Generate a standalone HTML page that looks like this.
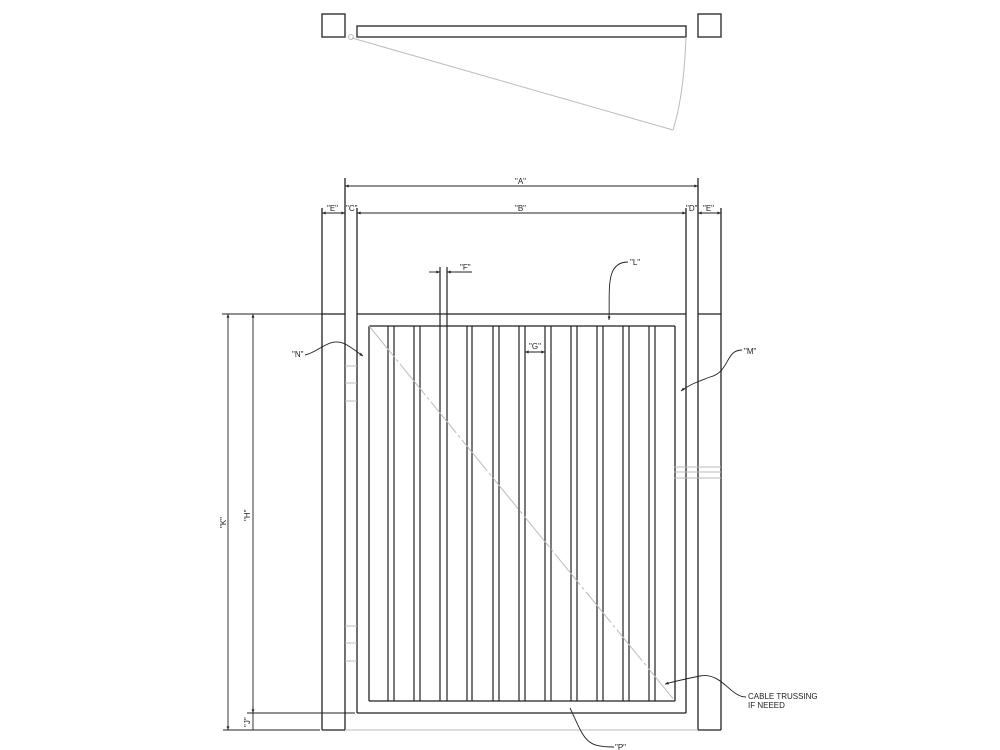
<!DOCTYPE html>
<html><head><meta charset="utf-8"><style>
html,body{margin:0;padding:0;background:#fff;}
svg{display:block;}
text{font-family:"Liberation Sans",sans-serif;font-size:8px;fill:#222;}
</style></head><body>
<svg width="1000" height="750" viewBox="0 0 1000 750" xmlns="http://www.w3.org/2000/svg">
<defs>
<marker id="ar" viewBox="0 0 10 10" refX="10" refY="5" markerWidth="6" markerHeight="4" orient="auto-start-reverse"><path d="M0,1 L10,5 L0,9 z" fill="#222"/></marker>
</defs>
<!-- top view -->
<g fill="none" stroke="#333" stroke-width="1.4">
<rect x="322" y="14" width="23" height="23"/>
<rect x="357" y="26" width="329" height="11"/>
<rect x="698" y="14" width="23" height="23"/>
</g>
<g fill="none" stroke="#bbb" stroke-width="1">
<circle cx="351" cy="37" r="2.5"/>
<line x1="352" y1="38" x2="673" y2="130"/>
<path d="M686,37 Q684,95 673,130"/>
</g>
<!-- posts -->
<g fill="none" stroke="#222" stroke-width="1.3">
<line x1="322" y1="208" x2="322" y2="730"/>
<line x1="345" y1="178" x2="345" y2="730"/>
<line x1="322" y1="730" x2="345" y2="730"/>
<line x1="698" y1="178" x2="698" y2="730"/>
<line x1="721" y1="208" x2="721" y2="730"/>
<line x1="698" y1="730" x2="721" y2="730"/>
<line x1="322" y1="314" x2="345" y2="314"/>
<line x1="698" y1="314" x2="721" y2="314"/>
<line x1="357" y1="208" x2="357" y2="713"/>
<line x1="686" y1="208" x2="686" y2="713"/>
<line x1="357" y1="314" x2="686" y2="314"/>
<line x1="357" y1="713" x2="686" y2="713"/>
<line x1="369" y1="326" x2="369" y2="701"/>
<line x1="675" y1="326" x2="675" y2="701"/>
<line x1="369" y1="326" x2="675" y2="326"/>
<line x1="369" y1="701" x2="675" y2="701"/>
</g>
<!-- pickets -->
<g fill="none" stroke="#222" stroke-width="1.2">
<line x1="388" y1="326" x2="388" y2="701"/><line x1="394" y1="326" x2="394" y2="701"/>
<line x1="414" y1="326" x2="414" y2="701"/><line x1="420" y1="326" x2="420" y2="701"/>
<line x1="440" y1="267" x2="440" y2="701"/><line x1="447" y1="267" x2="447" y2="701"/>
<line x1="467" y1="326" x2="467" y2="701"/><line x1="472" y1="326" x2="472" y2="701"/>
<line x1="493" y1="326" x2="493" y2="701"/><line x1="499" y1="326" x2="499" y2="701"/>
<line x1="519" y1="326" x2="519" y2="701"/><line x1="525" y1="326" x2="525" y2="701"/>
<line x1="545" y1="326" x2="545" y2="701"/><line x1="551" y1="326" x2="551" y2="701"/>
<line x1="571" y1="326" x2="571" y2="701"/><line x1="577" y1="326" x2="577" y2="701"/>
<line x1="597" y1="326" x2="597" y2="701"/><line x1="603" y1="326" x2="603" y2="701"/>
<line x1="623" y1="326" x2="623" y2="701"/><line x1="629" y1="326" x2="629" y2="701"/>
<line x1="649" y1="326" x2="649" y2="701"/><line x1="655" y1="326" x2="655" y2="701"/>
</g>
<!-- grey details -->
<g fill="none" stroke="#bbb" stroke-width="1">
<line x1="369" y1="326" x2="675" y2="701" stroke-dasharray="40,3,3,3"/>
<line x1="345" y1="366" x2="357" y2="366"/><line x1="345" y1="383" x2="357" y2="383"/><line x1="345" y1="401" x2="357" y2="401"/>
<line x1="345" y1="626" x2="357" y2="626"/><line x1="345" y1="643" x2="357" y2="643"/><line x1="345" y1="661" x2="357" y2="661"/>
<line x1="674" y1="467" x2="721" y2="467"/><line x1="674" y1="472" x2="721" y2="472"/><line x1="674" y1="478" x2="721" y2="478"/>
<line x1="345" y1="730" x2="698" y2="730"/>
</g>
<!-- dimensions -->
<g fill="none" stroke="#222" stroke-width="0.9">
<line x1="345" y1="186" x2="698" y2="186" marker-start="url(#ar)" marker-end="url(#ar)"/>
<line x1="357" y1="213" x2="686" y2="213" marker-start="url(#ar)" marker-end="url(#ar)"/>
<line x1="322" y1="213" x2="345" y2="213" marker-start="url(#ar)" marker-end="url(#ar)"/>
<line x1="698" y1="213" x2="721" y2="213" marker-start="url(#ar)" marker-end="url(#ar)"/>
<line x1="429" y1="272" x2="440" y2="272" marker-end="url(#ar)"/>
<line x1="472" y1="272" x2="447" y2="272" marker-end="url(#ar)"/>
<line x1="525" y1="352" x2="545" y2="352" marker-start="url(#ar)" marker-end="url(#ar)"/>
<line x1="222" y1="314" x2="322" y2="314"/>
<line x1="223" y1="730" x2="320" y2="730"/>
<line x1="247" y1="713" x2="355" y2="713"/>
<line x1="228" y1="314" x2="228" y2="730" marker-start="url(#ar)" marker-end="url(#ar)"/>
<line x1="253" y1="314" x2="253" y2="713" marker-start="url(#ar)" marker-end="url(#ar)"/>
<line x1="253" y1="706" x2="253" y2="713"/>
<line x1="253" y1="713" x2="253" y2="730"/>
<!-- leaders -->
<path d="M628,262 C605,262 610,290 609,320" marker-end="url(#ar)"/>
<path d="M305,355 C320,352 330,335 347,345 C355,350 360,354 363,356" marker-end="url(#ar)"/>
<path d="M742,350 C725,350 730,372 710,377 C700,381 690,384 681,391" marker-end="url(#ar)"/>
<path d="M746,697 C730,697 722,672 700,676 C690,678 680,680 665,684" marker-end="url(#ar)"/>
<path d="M614,747 C585,747 585,740 570,708"/>
</g>
<text x="515" y="184">"A"</text>
<text x="515" y="211">"B"</text>
<text x="346" y="211">"C"</text>
<text x="686" y="211">"D"</text>
<text x="327" y="211">"E"</text>
<text x="703" y="211">"E"</text>
<text x="460" y="270">"F"</text>
<text x="630" y="265">"L"</text>
<text x="529" y="349">"G"</text>
<text x="292" y="357">"N"</text>
<text x="744" y="354">"M"</text>
<text x="615" y="750">"P"</text>
<text x="748" y="699">CABLE TRUSSING</text>
<text x="748" y="708">IF NEEED</text>
<text transform="translate(226,528) rotate(-90)">"K"</text>
<text transform="translate(250,521) rotate(-90)">"H"</text>
<text transform="translate(250,727) rotate(-90)">"J"</text>
</svg>
</body></html>
